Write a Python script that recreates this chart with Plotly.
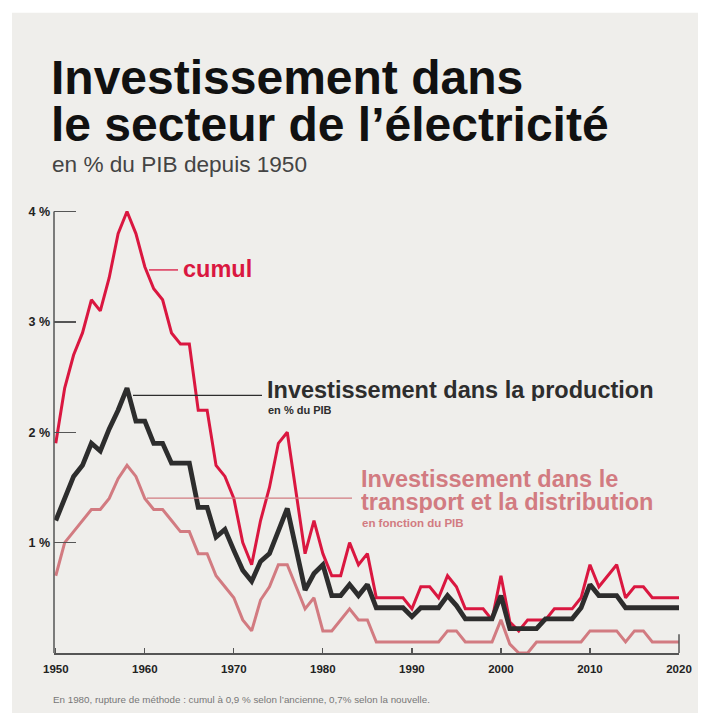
import plotly.graph_objects as go

years = list(range(1950, 2021))

cumul = [1.9, 2.4, 2.7, 2.9, 3.2, 3.1, 3.4, 3.8, 4.0, 3.8,
         3.5, 3.3, 3.2, 2.9, 2.8, 2.8, 2.2, 2.2, 1.7, 1.6,
         1.4, 1.0, 0.8, 1.2, 1.5, 1.9, 2.0, 1.45, 0.9, 1.2,
         0.9, 0.7, 0.7, 1.0, 0.8, 0.9, 0.5, 0.5, 0.5, 0.5,
         0.4, 0.6, 0.6, 0.5, 0.7, 0.6, 0.4, 0.4, 0.4, 0.3,
         0.7, 0.28, 0.2, 0.3, 0.3, 0.3, 0.4, 0.4, 0.4, 0.5,
         0.8, 0.6, 0.7, 0.8, 0.5, 0.6, 0.6, 0.5, 0.5, 0.5, 0.5]

production = [1.2, 1.4, 1.6, 1.7, 1.9, 1.83, 2.03, 2.2, 2.4, 2.1,
              2.1, 1.9, 1.9, 1.72, 1.72, 1.72, 1.32, 1.32, 1.05, 1.12,
              0.93, 0.75, 0.65, 0.83, 0.9, 1.1, 1.31, 0.94, 0.57, 0.72,
              0.8, 0.52, 0.52, 0.62, 0.52, 0.62, 0.41, 0.41, 0.41, 0.41,
              0.33, 0.41, 0.41, 0.41, 0.52, 0.43, 0.31, 0.31, 0.31, 0.31,
              0.52, 0.22, 0.22, 0.22, 0.22, 0.31, 0.31, 0.31, 0.31, 0.41,
              0.62, 0.52, 0.52, 0.52, 0.41, 0.41, 0.41, 0.41, 0.41, 0.41, 0.41]

transport = [0.7, 1.0, 1.1, 1.2, 1.3, 1.3, 1.4, 1.58, 1.7, 1.6,
             1.4, 1.3, 1.3, 1.2, 1.1, 1.1, 0.9, 0.9, 0.7, 0.6,
             0.5, 0.3, 0.2, 0.48, 0.6, 0.8, 0.8, 0.6, 0.4, 0.5,
             0.2, 0.2, 0.3, 0.4, 0.3, 0.3, 0.1, 0.1, 0.1, 0.1,
             0.1, 0.1, 0.1, 0.1, 0.2, 0.2, 0.1, 0.1, 0.1, 0.1,
             0.3, 0.08, 0.0, 0.0, 0.1, 0.1, 0.1, 0.1, 0.1, 0.1,
             0.2, 0.2, 0.2, 0.2, 0.1, 0.2, 0.2, 0.1, 0.1, 0.1, 0.1]

x_ticks = [1950, 1960, 1970, 1980, 1990, 2000, 2010, 2020]
y_ticks = [1, 2, 3, 4]
y_ticktext = ["1 %", "2 %", "3 %", "4 %"]

RED = "#da1740"
DARK = "#2d2d2d"
PINK = "#d27b81"
BG = "#efeeeb"
FONT = "Liberation Sans, Arial, sans-serif"

W, H = 710, 713
L, R, T, B = 54, 31, 205.5, 60
PW = W - L - R
PH = H - T - B


def fx(px):
    return (px - L) / PW


def fy(py):
    return (H - B - py) / PH


fig = go.Figure()
fig.add_trace(go.Scatter(x=years, y=transport, mode="lines",
                         line=dict(color=PINK, width=3), hoverinfo="skip"))
fig.add_trace(go.Scatter(x=years, y=cumul, mode="lines",
                         line=dict(color=RED, width=3), hoverinfo="skip"))
fig.add_trace(go.Scatter(x=years, y=production, mode="lines",
                         line=dict(color=DARK, width=4.8), hoverinfo="skip"))

shapes = [
    dict(type="rect", xref="paper", yref="paper", x0=fx(12), x1=fx(698),
         y0=fy(713), y1=fy(12), fillcolor=BG, line=dict(width=0), layer="below"),
    dict(type="line", xref="paper", yref="y", x0=0, x1=0, y0=0, y1=4,
         line=dict(color="#555", width=1.5)),
    dict(type="line", xref="paper", yref="y", x0=1, x1=1, y0=0, y1=0.17,
         line=dict(color="#555", width=1.5)),
    dict(type="line", xref="paper", yref="paper", x0=fx(149), x1=fx(178),
         y0=fy(269.5), y1=fy(269.5), line=dict(color=RED, width=1.3)),
    dict(type="line", xref="paper", yref="paper", x0=fx(133), x1=fx(262),
         y0=fy(395), y1=fy(395), line=dict(color=DARK, width=1.3)),
    dict(type="line", xref="paper", yref="paper", x0=fx(147), x1=fx(352),
         y0=fy(498), y1=fy(498), line=dict(color=PINK, width=1.3)),
]


def ann(text, xpix, ypix, size, color, bold=True, box=None):
    t = f"<b>{text}</b>" if bold else text
    d = dict(text=t, xref="paper", yref="paper", x=fx(xpix), y=fy(ypix),
             xanchor="left", yanchor="middle", showarrow=False,
             font=dict(family=FONT, size=size, color=color))
    if box:
        d["height"] = box
    return d


annotations = [
    ann("Investissement dans", 49, 76.5, 48, "#111", box=44),
    ann("le secteur de l’électricité", 49, 123.5, 48, "#111", box=44),
    ann("en % du PIB depuis 1950", 50, 164, 22.6, "#444", bold=False),
    ann("cumul", 181, 269, 23.5, RED),
    ann("Investissement dans la production", 265, 390, 23.5, DARK, box=22),
    ann("en % du PIB", 266, 410, 11, DARK, box=12),
    ann("Investissement dans le", 359, 479, 23.5, PINK, box=22),
    ann("transport et la distribution", 359, 502, 23.5, PINK, box=22),
    ann("en fonction du PIB", 360, 522.5, 11.5, PINK, box=12),
    ann("En 1980, rupture de méthode : cumul à 0,9 % selon l’ancienne, 0,7% selon la nouvelle.",
        51, 700, 9.8, "#777", bold=False),
]

fig.update_layout(
    width=W, height=H,
    margin=dict(l=L, r=R, t=T, b=B, pad=0),
    paper_bgcolor="white",
    plot_bgcolor="rgba(0,0,0,0)",
    showlegend=False,
    shapes=shapes,
    annotations=annotations,
    font=dict(family=FONT),
    xaxis=dict(range=[1949.8, 2020], tickvals=x_ticks,
               ticktext=[f"<b>{v}</b>" for v in x_ticks],
               ticks="inside", ticklen=5, tickwidth=1.2, tickcolor="#555",
               showline=True, linecolor="#555", linewidth=1.5,
               showgrid=False, zeroline=False, fixedrange=True,
               tickfont=dict(family=FONT, size=11.5, color="#222"),
               ticklabelstandoff=5),
    yaxis=dict(range=[0, 4.05], tickvals=y_ticks,
               ticktext=[f"<b>{t}</b>" for t in y_ticktext],
               ticks="inside", ticklen=22, tickwidth=1.5, tickcolor="#555",
               showline=False, showgrid=False, zeroline=False, fixedrange=True,
               tickfont=dict(family=FONT, size=12.5, color="#222"),
               ticklabelstandoff=3),
)

fig.write_html("out.html",
               config={"displayModeBar": False, "staticPlot": True},
               post_script="document.body.style.margin='0';document.body.style.padding='0';")
